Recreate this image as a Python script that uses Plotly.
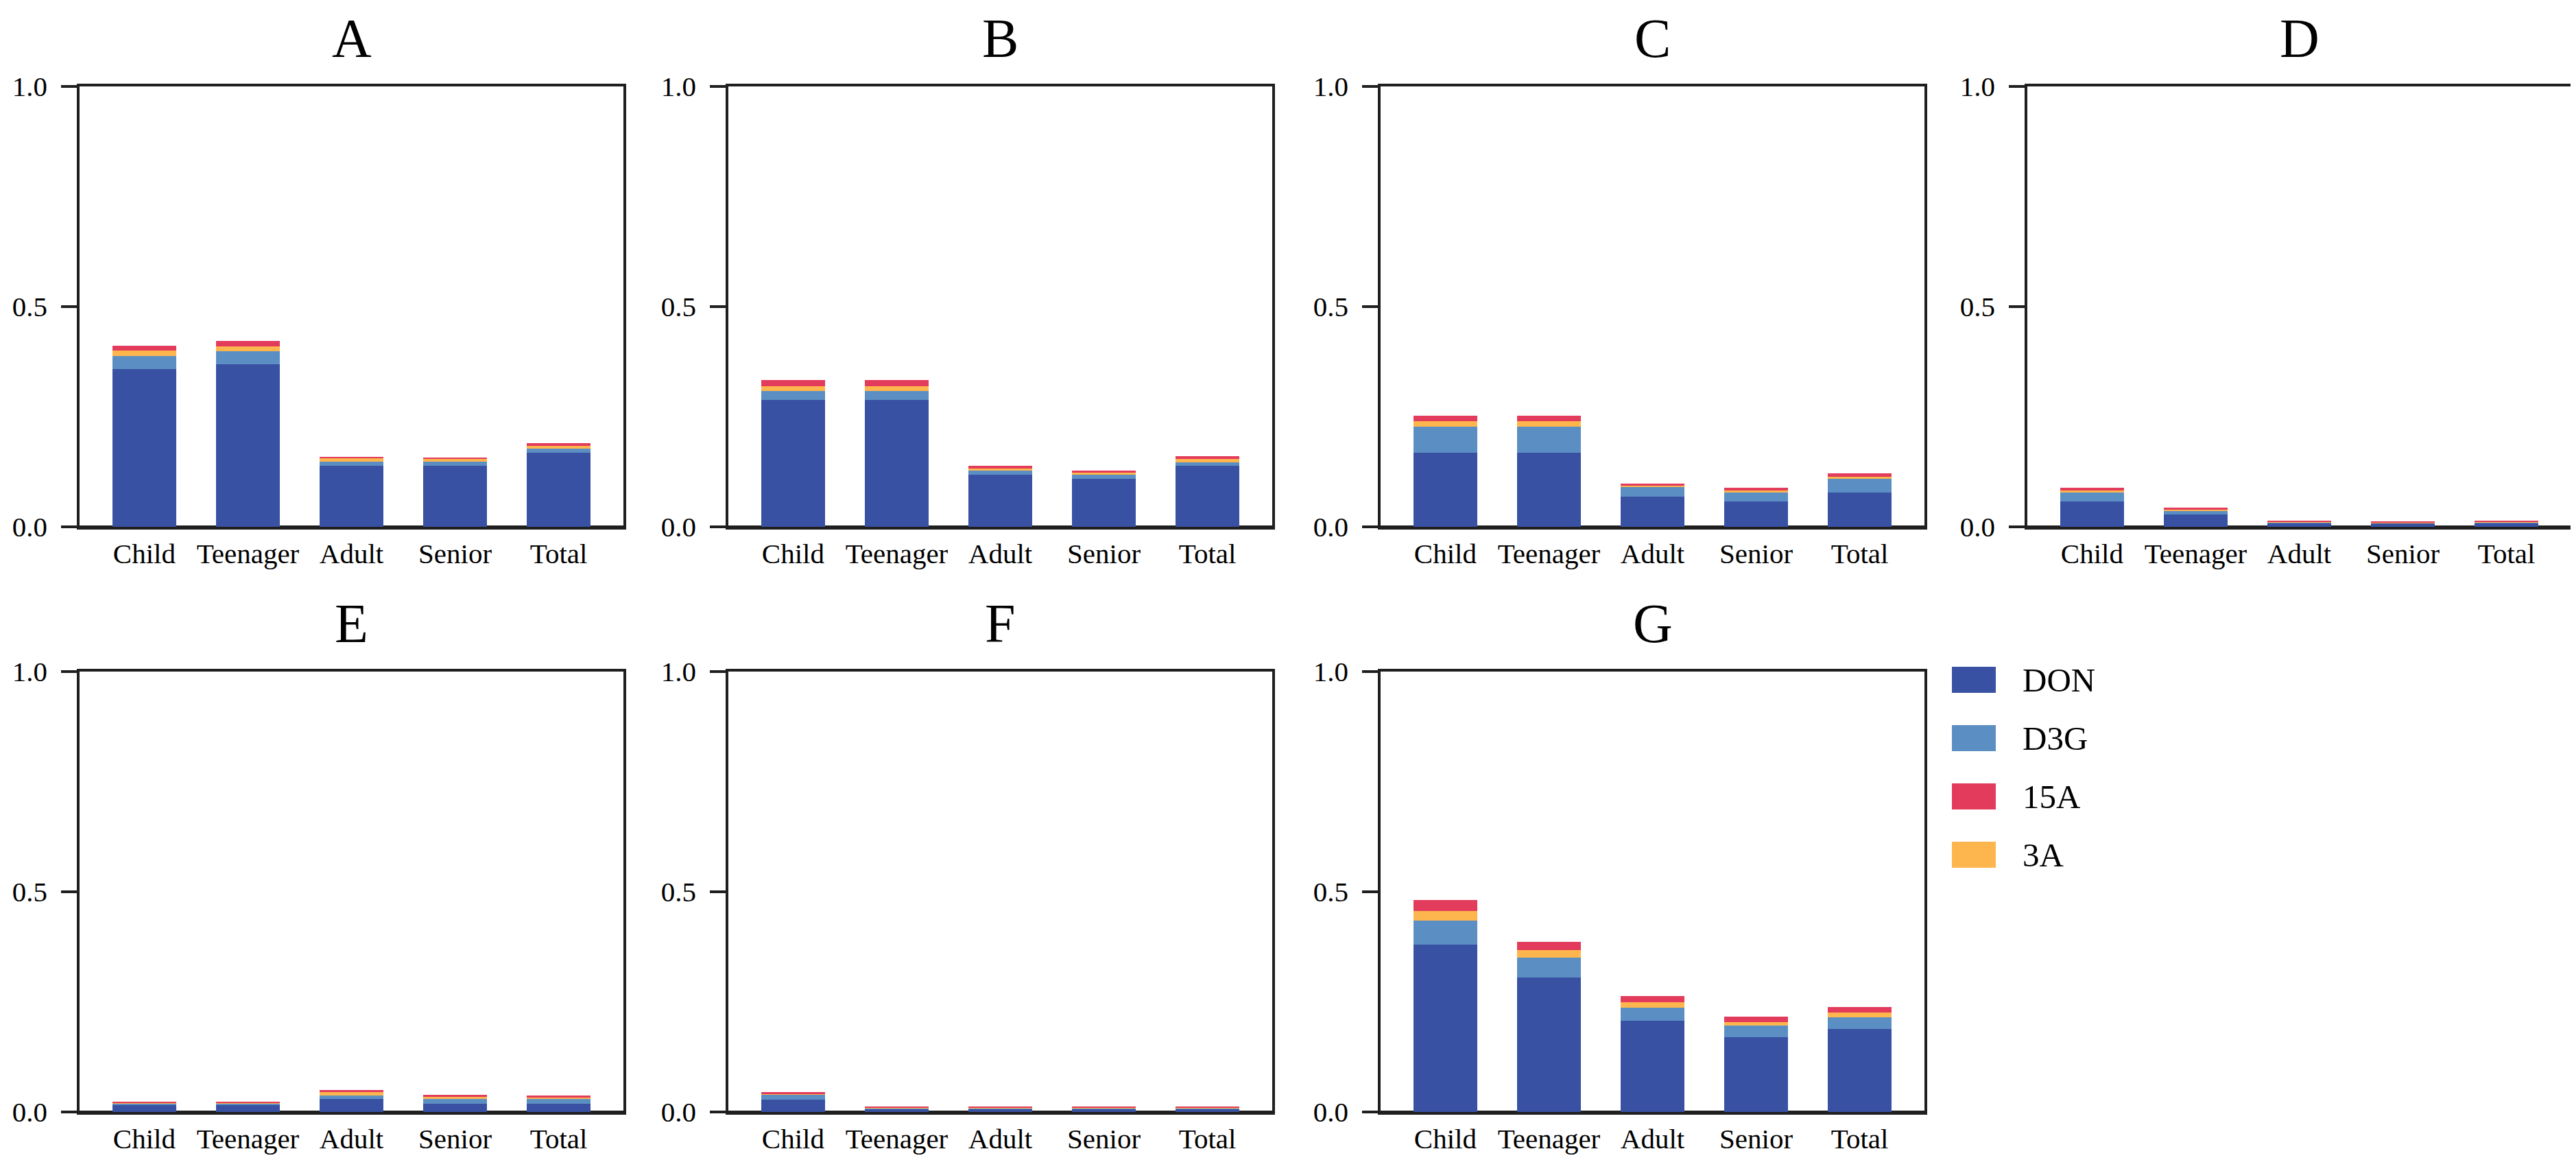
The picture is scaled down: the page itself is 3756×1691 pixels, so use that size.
import plotly.graph_objects as go

W, H = 3756, 1691

categories = ["Child", "Teenager", "Adult", "Senior", "Total"]
panels = ["A", "B", "C", "D", "E", "F", "G"]

# values per panel (A..G), each list over categories
DON = [
    [0.358, 0.369, 0.139, 0.139, 0.168],
    [0.288, 0.288, 0.118, 0.109, 0.139],
    [0.168, 0.168, 0.068, 0.058, 0.078],
    [0.058, 0.028, 0.008, 0.008, 0.008],
    [0.017, 0.017, 0.029, 0.018, 0.018],
    [0.028, 0.007, 0.007, 0.007, 0.007],
    [0.380, 0.305, 0.207, 0.170, 0.188],
]
D3G = [
    [0.030, 0.030, 0.009, 0.009, 0.010],
    [0.020, 0.020, 0.009, 0.009, 0.008],
    [0.059, 0.059, 0.022, 0.020, 0.031],
    [0.020, 0.008, 0.002, 0.001, 0.002],
    [0.002, 0.002, 0.009, 0.012, 0.011],
    [0.011, 0.002, 0.002, 0.002, 0.002],
    [0.054, 0.045, 0.029, 0.026, 0.027],
]
A3 = [
    [0.013, 0.011, 0.007, 0.006, 0.006],
    [0.012, 0.012, 0.005, 0.005, 0.007],
    [0.013, 0.013, 0.004, 0.004, 0.004],
    [0.004, 0.003, 0.001, 0.001, 0.001],
    [0.002, 0.002, 0.007, 0.004, 0.004],
    [0.002, 0.001, 0.001, 0.001, 0.001],
    [0.022, 0.017, 0.014, 0.008, 0.011],
]
A15 = [
    [0.011, 0.012, 0.004, 0.004, 0.006],
    [0.014, 0.014, 0.007, 0.004, 0.006],
    [0.013, 0.013, 0.004, 0.007, 0.009],
    [0.007, 0.005, 0.002, 0.001, 0.002],
    [0.003, 0.002, 0.005, 0.005, 0.005],
    [0.004, 0.002, 0.001, 0.001, 0.001],
    [0.026, 0.020, 0.014, 0.013, 0.012],
]

y_ticks = [0.0, 0.5, 1.0]
y_tick_labels = ["0.0", "0.5", "1.0"]

# stacking order bottom -> top
stack_series = [("DON", DON, "#3851A2"), ("D3G", D3G, "#5B8FC3"),
                ("3A", A3, "#FDB54D"), ("15A", A15, "#E23B5B")]
legend_order = ["DON", "D3G", "15A", "3A"]
color_of = {n: c for n, _, c in stack_series}

FONT = "Liberation Serif, Times New Roman, serif"
AXC = "#1f1f1f"

# panel boxes in pixels
col_left = [108, 1054, 2005, 2948]
PW = 793
row_y = [(118, 760), (971, 1613)]
boxes = []
for i in range(7):
    r, c = divmod(i, 4)
    boxes.append(((col_left[c], col_left[c] + PW), row_y[r]))

fig = go.Figure()
layout = dict(
    width=W, height=H,
    margin=dict(l=0, r=0, t=0, b=0),
    paper_bgcolor="white", plot_bgcolor="white",
    barmode="stack", bargap=0.38,
    showlegend=False,
    font=dict(family=FONT, size=41, color="black"),
)
annotations = []
shapes = []

for i, p in enumerate(panels):
    (x0, x1), (yt, yb) = boxes[i]
    xa = "x" if i == 0 else f"x{i+1}"
    ya = "y" if i == 0 else f"y{i+1}"
    for name, vals, col in stack_series:
        fig.add_trace(go.Bar(x=categories, y=vals[i], name=name,
                             marker=dict(color=col, line=dict(width=0)),
                             xaxis=xa, yaxis=ya, width=0.62))
    xkey = "xaxis" if i == 0 else f"xaxis{i+1}"
    ykey = "yaxis" if i == 0 else f"yaxis{i+1}"
    layout[xkey] = dict(
        domain=[x0 / W, x1 / W], anchor=ya,
        range=[-0.625, 4.625], showline=True, mirror=True,
        linecolor=AXC, linewidth=3.5, ticks="", ticklen=0, showgrid=False,
        tickfont=dict(family=FONT, size=41, color="black"),
        ticklabelstandoff=0, automargin=False, fixedrange=True,
    )
    layout[ykey] = dict(
        domain=[1 - yb / H, 1 - yt / H], anchor=xa,
        range=[0, 1], showline=True, mirror=True,
        linecolor=AXC, linewidth=3.5, ticks="outside", ticklen=23,
        tickwidth=3.5, tickcolor=AXC, showgrid=False,
        zeroline=True, zerolinecolor=AXC, zerolinewidth=5,
        tickvals=y_ticks, ticktext=y_tick_labels,
        tickfont=dict(family=FONT, size=41, color="black"),
        ticklabelstandoff=12, automargin=False, fixedrange=True,
    )
    annotations.append(dict(
        text=p, x=(x0 + x1) / 2 / W, y=1 - (yt - 70) / H,
        xref="paper", yref="paper", xanchor="center", yanchor="middle",
        showarrow=False, font=dict(family=FONT, size=80, color="black"),
    ))

# custom legend
for k, name in enumerate(legend_order):
    yc = 983 + k * 85
    shapes.append(dict(type="rect", xref="paper", yref="paper",
                       x0=2838 / W, x1=2902 / W,
                       y0=1 - (yc + 19) / H, y1=1 - (yc - 19) / H,
                       fillcolor=color_of[name], line=dict(width=0)))
    annotations.append(dict(
        text=name, x=2939 / W, y=1 - yc / H, xref="paper", yref="paper",
        xanchor="left", yanchor="middle", showarrow=False,
        font=dict(family=FONT, size=49, color="black"),
    ))

layout["annotations"] = annotations
layout["shapes"] = shapes
fig.update_layout(**layout)
fig.write_html("out.html")
